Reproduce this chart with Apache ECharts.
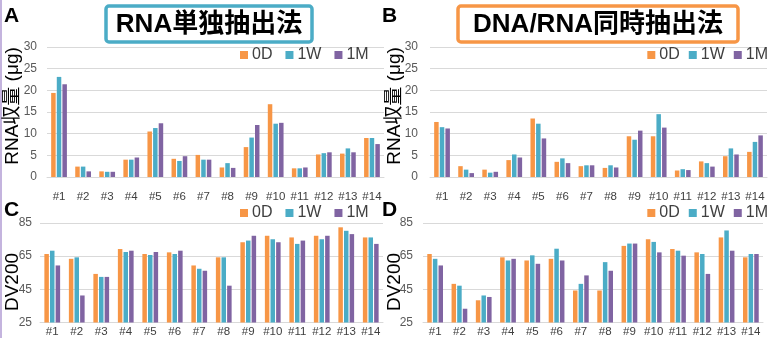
<!DOCTYPE html>
<html><head><meta charset="utf-8">
<script src="https://cdn.jsdelivr.net/npm/echarts@6/dist/echarts.min.js"></script>
<style>html,body{margin:0;padding:0;background:#fff}#c{width:769px;height:338px}</style>
</head><body><div id="c"></div>
<script>
const categories = ['#1','#2','#3','#4','#5','#6','#7','#8','#9','#10','#11','#12','#13','#14'];
const seriesNames = ['0D','1W','1M'];
const colors = ['#F79646','#4BACC6','#8064A2'];
// A: RNA単独抽出法, RNA yield (μg)
const a0D = [19.4, 2.4, 1.3, 4.0, 10.5, 4.2, 5.1, 2.2, 6.9, 16.8, 2.0, 5.2, 5.4, 9.0];
const a1W = [23.1, 2.4, 1.2, 4.0, 11.3, 3.7, 4.0, 3.2, 9.1, 12.3, 2.0, 5.5, 6.6, 9.0];
const a1M = [21.4, 1.3, 1.2, 4.5, 12.4, 4.8, 4.0, 2.1, 12.0, 12.5, 2.2, 5.7, 5.7, 7.6];
// B: DNA/RNA同時抽出法, RNA yield (μg)
const b0D = [12.7, 2.5, 1.7, 3.9, 13.5, 3.5, 2.5, 2.1, 9.4, 9.4, 1.5, 3.6, 4.8, 5.8];
const b1W = [11.5, 1.7, 1.0, 5.2, 12.3, 4.3, 2.7, 2.7, 8.6, 14.5, 1.8, 3.2, 6.6, 8.1];
const b1M = [11.2, 0.9, 1.2, 4.5, 8.9, 3.2, 2.7, 2.2, 10.7, 11.4, 1.6, 2.4, 5.2, 9.6];
// C: RNA単独抽出法, DV200
const c0D = [66.3, 63.4, 54.3, 69.3, 66.3, 67.3, 59.4, 64.3, 73.4, 77.3, 76.3, 77.3, 82.4, 76.3];
const c1W = [68.3, 64.3, 52.5, 67.5, 65.7, 66.3, 57.4, 64.3, 74.4, 75.2, 72.4, 75.2, 80.3, 76.3];
const c1M = [59.4, 41.3, 52.5, 68.3, 67.5, 68.3, 56.2, 47.2, 77.3, 73.4, 74.4, 77.3, 78.3, 72.4];
// D: DNA/RNA同時抽出法, DV200
const d0D = [66.3, 48.3, 38.4, 64.3, 62.4, 63.4, 44.3, 44.3, 71.2, 75.2, 69.3, 67.3, 76.3, 64.3];
const d1W = [63.4, 47.2, 41.3, 62.4, 65.5, 69.5, 48.3, 61.4, 72.6, 73.6, 68.3, 66.3, 80.5, 66.3];
const d1M = [59.4, 33.3, 40.4, 63.4, 60.4, 62.4, 53.4, 56.2, 72.6, 67.3, 65.3, 54.3, 68.3, 66.3];

const panelData = [[a0D,a1W,a1M],[b0D,b1W,b1M],[c0D,c1W,c1M],[d0D,d1W,d1M]];
const FONT = '"Liberation Sans","Noto Sans CJK JP",sans-serif';

const grids = [
  {left:47, right:385, top:47, height:130},
  {left:430, right:2, top:47, height:130},
  {left:40, right:386, top:223, height:102},
  {left:423, right:6, top:223, height:102}
];
const xMargins = [14,14,4,4];
const yMargins = [10,12,8,10];
const yCfg = [
  {min:0,max:30,interval:5},
  {min:0,max:30,interval:5},
  {min:25,max:85,interval:20},
  {min:25,max:85,interval:20}
];
const legendPos = [
  {left:240, top:47, itemGap:13},
  {right:1, top:47, itemGap:9},
  {left:240, top:205, itemGap:13},
  {right:1, top:205, itemGap:9}
];

const xAxis = grids.map((g,i)=>({
  type:'category', gridIndex:i, data:categories,
  axisLine:{show:true, lineStyle:{color:'#d9d9d9', width:1}},
  axisTick:{show:false},
  axisLabel:{fontSize:11.5, color:'#404040', margin:xMargins[i], fontFamily:FONT, interval:0}
}));
const yAxis = grids.map((g,i)=>Object.assign({
  type:'value', gridIndex:i,
  axisLine:{show:false}, axisTick:{show:false},
  splitLine:{lineStyle:{color:'#d9d9d9', width:1}},
  axisLabel:{fontSize:12, color:'#595959', margin:yMargins[i], fontFamily:FONT}
}, yCfg[i]));

const series = [];
panelData.forEach((arrs,i)=>{
  arrs.forEach((d,k)=>{
    series.push({
      type:'bar', name:seriesNames[k], xAxisIndex:i, yAxisIndex:i, data:d,
      barWidth:4.5, barGap:'25%', itemStyle:{color:colors[k]}, silent:true
    });
  });
});

const legend = legendPos.map(p=>Object.assign({
  data:seriesNames, orient:'horizontal', padding:0, width:140,
  itemWidth:8, itemHeight:8, icon:'rect',
  textStyle:{fontSize:16, color:'#404040', fontFamily:FONT, padding:[0,0,0,-1]}
}, p));

const graphic = [
  {type:'rect', shape:{x:0,y:0,width:2,height:338}, style:{fill:'#c4b4de'}},
  {type:'rect', shape:{x:106,y:6,width:206,height:36,r:3}, style:{fill:'#fff', stroke:'#4BACC6', lineWidth:3.5}},
  {type:'text', x:209, y:25, style:{text:'RNA単独抽出法', font:'bold 26px '+FONT, fill:'#000', textAlign:'center', textVerticalAlign:'middle'}},
  {type:'rect', shape:{x:458,y:6,width:280,height:36,r:3}, style:{fill:'#fff', stroke:'#F79646', lineWidth:3.5}},
  {type:'text', x:598, y:25, style:{text:'DNA/RNA同時抽出法', font:'bold 26px '+FONT, fill:'#000', textAlign:'center', textVerticalAlign:'middle'}},
  {type:'text', x:4, y:16, style:{text:'A', font:'bold 21px '+FONT, fill:'#000', textVerticalAlign:'middle'}},
  {type:'text', x:382, y:16, style:{text:'B', font:'bold 21px '+FONT, fill:'#000', textVerticalAlign:'middle'}},
  {type:'text', x:4, y:210, style:{text:'C', font:'bold 21px '+FONT, fill:'#000', textVerticalAlign:'middle'}},
  {type:'text', x:382, y:210, style:{text:'D', font:'bold 21px '+FONT, fill:'#000', textVerticalAlign:'middle'}},
  {type:'text', x:13, y:106, rotation:Math.PI/2, style:{text:'RNA収量 (μg)', font:'19px '+FONT, fill:'#000', textAlign:'center', textVerticalAlign:'middle'}},
  {type:'text', x:395, y:106, rotation:Math.PI/2, style:{text:'RNA収量 (μg)', font:'19px '+FONT, fill:'#000', textAlign:'center', textVerticalAlign:'middle'}},
  {type:'text', x:13, y:282, rotation:Math.PI/2, style:{text:'DV200', font:'19px '+FONT, fill:'#000', textAlign:'center', textVerticalAlign:'middle'}},
  {type:'text', x:395, y:282, rotation:Math.PI/2, style:{text:'DV200', font:'19px '+FONT, fill:'#000', textAlign:'center', textVerticalAlign:'middle'}}
];

const chart = echarts.init(document.getElementById('c'), null, {renderer:'canvas'});
chart.setOption({
  animation:false, backgroundColor:'#fff',
  grid:grids, xAxis:xAxis, yAxis:yAxis, series:series, legend:legend, graphic:graphic
});
</script></body></html>
